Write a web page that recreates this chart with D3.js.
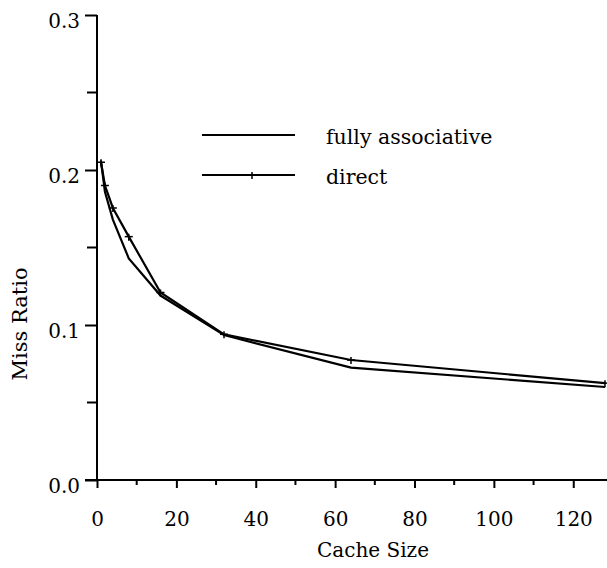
<!DOCTYPE html>
<html lang="en">
<head>
    <meta charset="UTF-8">
    <title>Miss Ratio vs Cache Size</title>
    <script src="https://d3js.org/d3.v7.min.js"></script>
    <style>
        body { margin: 0; background: #fff; }
    </style>
</head>
<body>
    <svg width="607" height="568"></svg>
    <script>
        // Data
        const cacheSizes = [1, 2, 4, 8, 16, 32, 64, 128];
        const fullyAssoc = [0.206, 0.186, 0.168, 0.143, 0.119, 0.0935, 0.0725, 0.060];
        const direct = [0.205, 0.190, 0.1755, 0.157, 0.121, 0.094, 0.0774, 0.0625];
        const xTicks = [0, 20, 40, 60, 80, 100, 120];
        const yTicks = [0.0, 0.1, 0.2, 0.3];
        const legendLabels = ["fully associative", "direct"];

        const serif = "'DejaVu Serif', 'Liberation Serif', serif";

        const svg = d3.select("svg");

        const x = d3.scaleLinear().domain([0, 128]).range([97, 605]);
        const y = d3.scaleLinear().domain([0, 0.3]).range([480, 15]);

        // axes
        const xAxis = d3.axisBottom(x)
            .tickValues(xTicks)
            .tickSize(8)
            .tickFormat(d3.format("d"));
        const gx = svg.append("g").attr("transform", "translate(0,480)").call(xAxis)
            .attr("font-family", null).attr("font-size", null);
        gx.select(".domain").attr("d", "M85,0H607").attr("stroke-width", 2);
        gx.selectAll(".tick line").attr("stroke-width", 2);
        gx.selectAll(".tick text").attr("dy", "1.75em")
            .style("font-family", serif).style("font-size", "20px");

        // minor x ticks
        svg.append("g").selectAll("line")
            .data(d3.range(10, 130, 20))
            .join("line")
            .attr("x1", d => x(d)).attr("x2", d => x(d))
            .attr("y1", 480).attr("y2", 485)
            .attr("stroke", "#000").attr("stroke-width", 2);

        const yAxis = d3.axisLeft(y)
            .tickValues(yTicks)
            .tickSize(12)
            .tickFormat(d3.format(".1f"));
        const gy = svg.append("g").attr("transform", "translate(97,0)").call(yAxis)
            .attr("font-family", null).attr("font-size", null);
        gy.select(".domain").attr("d", "M0,480V15").attr("stroke-width", 2);
        gy.selectAll(".tick line").attr("stroke-width", 2);
        gy.selectAll(".tick text").attr("x", -17).attr("dy", "0.6em")
            .style("font-family", serif).style("font-size", "20px");

        // minor y ticks
        svg.append("g").selectAll("line")
            .data([0.05, 0.15, 0.25])
            .join("line")
            .attr("x1", x(0) - 10).attr("x2", x(0))
            .attr("y1", d => y(d)).attr("y2", d => y(d))
            .attr("stroke", "#000").attr("stroke-width", 2);

        // axis titles
        svg.append("text")
            .attr("x", 373).attr("y", 557)
            .attr("text-anchor", "middle")
            .style("font-family", serif).style("font-size", "20px")
            .text("Cache Size");

        svg.append("text")
            .attr("transform", "translate(27,324) rotate(-90)")
            .attr("text-anchor", "middle")
            .style("font-family", serif).style("font-size", "21px")
            .text("Miss Ratio");

        // lines
        const line = d3.line()
            .x((d, i) => x(cacheSizes[i]))
            .y(d => y(d));

        svg.append("path")
            .datum(fullyAssoc)
            .attr("d", line)
            .attr("fill", "none").attr("stroke", "#000").attr("stroke-width", 2.2);

        svg.append("path")
            .datum(direct)
            .attr("d", line)
            .attr("fill", "none").attr("stroke", "#000").attr("stroke-width", 2.2);

        // small cross markers on direct
        const marker = (g, cx, cy) => {
            g.append("line").attr("x1", cx).attr("x2", cx).attr("y1", cy - 3).attr("y2", cy + 4)
                .attr("stroke", "#000").attr("stroke-width", 1.5);
            g.append("line").attr("x1", cx - 4).attr("x2", cx + 4).attr("y1", cy).attr("y2", cy)
                .attr("stroke", "#000").attr("stroke-width", 1.5);
        };
        const mg = svg.append("g");
        direct.forEach((v, i) => marker(mg, x(cacheSizes[i]), y(v)));

        // legend
        const legend = svg.append("g");
        legendLabels.forEach((label, i) => {
            const ly = 135 + i * 40;
            legend.append("line")
                .attr("x1", 202).attr("x2", 295)
                .attr("y1", ly).attr("y2", ly)
                .attr("stroke", "#000").attr("stroke-width", 2);
            if (label === "direct") marker(legend, 252, ly);
            legend.append("text")
                .attr("x", 326).attr("y", ly + 9)
                .style("font-family", serif).style("font-size", "20.5px")
                .text(label);
        });
    </script>
</body>
</html>
